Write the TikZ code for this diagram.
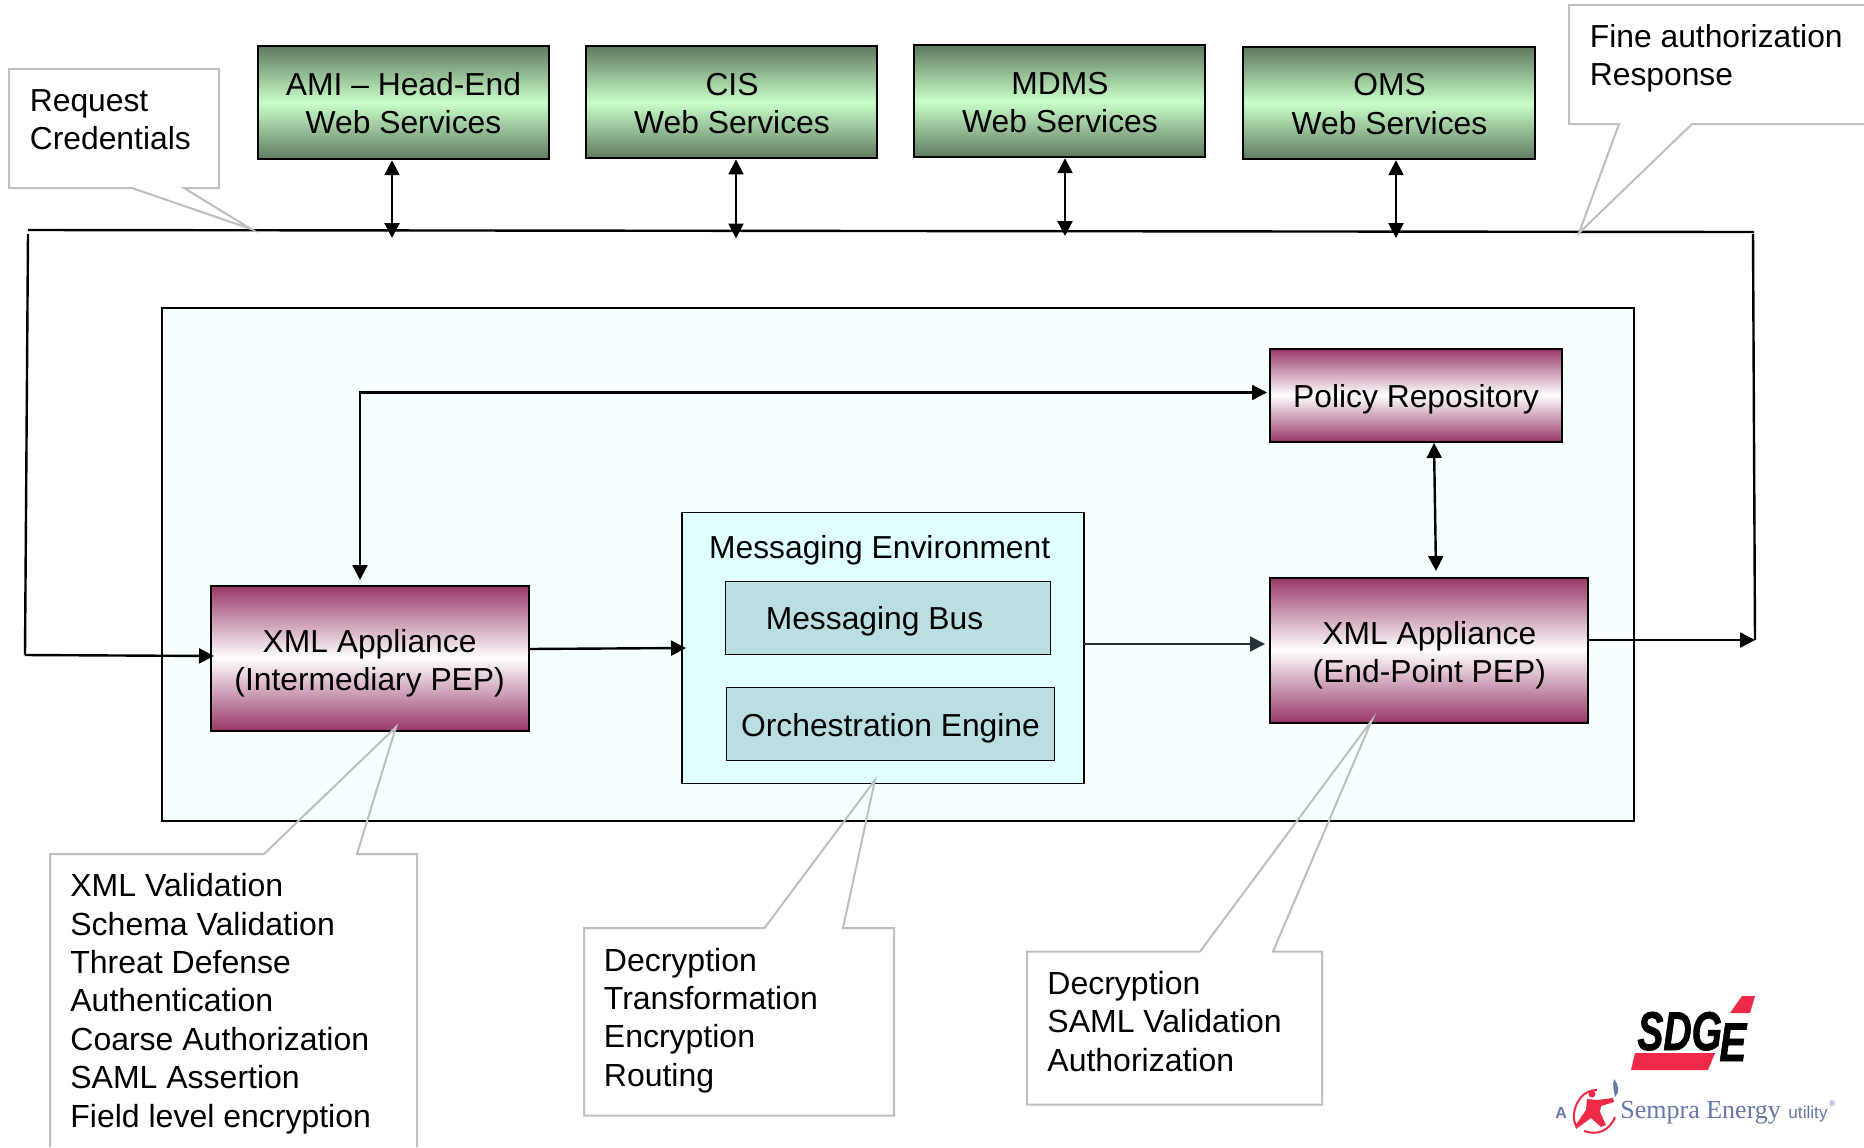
\documentclass[tikz,border=0pt]{standalone}
\usepackage{fontspec}
\setmainfont{Liberation Sans}
\newfontfamily\logoserif{Liberation Serif}
\newfontfamily\logoheavy[FakeBold=1.5]{Liberation Sans}
\usetikzlibrary{arrows.meta}
\definecolor{greenedge}{HTML}{5F7A60}
\definecolor{greenmid}{HTML}{C8FFC8}
\definecolor{maroon}{HTML}{983868}
\definecolor{panelfill}{HTML}{F5FFFF}
\definecolor{envfill}{HTML}{E0FFFF}
\definecolor{busfill}{HTML}{B9DFE2}
\definecolor{calloutline}{HTML}{BFBFBF}
\definecolor{logored}{HTML}{EE2A48}
\definecolor{logoblue}{HTML}{6678AA}
\definecolor{darkarrow}{HTML}{263238}
\tikzset{
  x=0.5pt,y=-0.5pt,
  base/.style={font=\fontsize{15.9}{19.2}\selectfont,text=black,inner sep=0pt,align=center},
  greenbox/.style={draw=black,line width=1pt,inner sep=0pt,top color=greenedge,bottom color=greenedge,middle color=greenmid},
  maroonbox/.style={draw=black,line width=1pt,inner sep=0pt,top color=maroon,bottom color=maroon,middle color=white},
  tealbox/.style={draw=black,line width=0.8pt,inner sep=0pt,fill=busfill},
  callout/.style={draw=calloutline,line width=1pt},
  note/.style={base,align=left,anchor=west},
  bignote/.style={note,font=\fontsize{16}{19.2}\selectfont},
  link/.style={draw=black,line width=1.2pt},
  onearrow/.style={link,-{Triangle[length=7.5pt,width=7.5pt]}},
  twoarrow/.style={link,{Triangle[length=7.5pt,width=7.5pt]}-{Triangle[length=7.5pt,width=7.5pt]}},
}
\begin{document}
\begin{tikzpicture}
\useasboundingbox (0,0) rectangle (1864,1147);
\fill[white] (0,0) rectangle (1864,1147);

% inner panel
\node[draw=black,line width=1.4pt,fill=panelfill,minimum width=736pt,minimum height=256.5pt,inner sep=0pt] (panel) at (898,564.5) {};

% service boxes
\node[greenbox,minimum width=145.5pt,minimum height=56.5pt] (ami) at (403.7,102.7) {};
\node[base] (amilabel) at (403.5,103.2) {AMI – Head-End\\Web Services};
\node[greenbox,minimum width=145.5pt,minimum height=56pt] (cis) at (731.7,102.4) {};
\node[base] (cislabel) at (732,103.8) {CIS\\Web Services};
\node[greenbox,minimum width=145.5pt,minimum height=56pt] (mdms) at (1059.9,101.2) {};
\node[base] (mdmslabel) at (1060,102.8) {MDMS\\Web Services};
\node[greenbox,minimum width=146pt,minimum height=56pt] (oms) at (1389.3,103.2) {};
\node[base] (omslabel) at (1389.5,104.2) {OMS\\Web Services};

% inner boxes
\node[maroonbox,minimum width=146pt,minimum height=46.5pt] (policy) at (1416.4,395) {};
\node[base] (policylabel) at (1416,399.3) {Policy Repository};
\node[maroonbox,minimum width=159pt,minimum height=72.5pt] (pepmid) at (369.5,658) {};
\node[base] (pepmidlabel) at (369.6,663.5) {XML Appliance\\(Intermediary PEP)};
\node[maroonbox,minimum width=159pt,minimum height=72.5pt] (pepend) at (1429.3,650) {};
\node[base] (pependlabel) at (1429.3,655) {XML Appliance\\(End-Point PEP)};
\node[draw=black,line width=0.8pt,fill=envfill,minimum width=201pt,minimum height=135.5pt,inner sep=0pt] (env) at (883,648) {};
\node[base] (envlabel) at (879.7,550.6) {Messaging Environment};
\node[tealbox,minimum width=162.5pt,minimum height=36.5pt] (bus) at (888,618) {};
\node[base] (buslabel) at (874.5,621) {Messaging Bus};
\node[tealbox,minimum width=164pt,minimum height=36.5pt] (orch) at (890.4,724) {};
\node[base] (orchlabel) at (890.5,728.3) {Orchestration Engine};

% bus coordinates
\coordinate (busL) at (28,230);
\coordinate (busR) at (1754,232);
\coordinate (downL) at (28,234);
\coordinate (downR) at (1753,234);
\coordinate (inL) at (25,655);
\coordinate (outR) at (1755,640);
\coordinate (a1) at (392,238);
\coordinate (a2) at (736,238.5);
\coordinate (a3) at (1065,236);
\coordinate (a4) at (1396,238);
\coordinate (corner) at (360,392.5);
\coordinate (envout) at (1265,644);
\coordinate (envin) at (686,648);
\coordinate (polin) at (1267,392.5);
\coordinate (ptop) at (360,580);
\coordinate (polbot) at (1434,443);
\coordinate (pepbot) at (1436,571);
\coordinate (endout) at (1588,640);
\coordinate (midout) at (528,649);
\coordinate (envoutS) at (1084,644);
\coordinate (midin) at (214,656);

% wires
\draw[link] (busL) -- (busR);
\draw[link] (downL) -- (inL);
\draw[link] (downR) -- (outR);
\draw[onearrow] (inL) -- (midin);
\draw[twoarrow] (ami.south -| a1) -- (a1);
\draw[twoarrow] (cis.south -| a2) -- (a2);
\draw[twoarrow] (mdms.south -| a3) -- (a3);
\draw[twoarrow] (oms.south -| a4) -- (a4);
\draw[twoarrow] (ptop) -- (corner) -- (polin);
\draw[twoarrow] (polbot) -- (pepbot);
\draw[onearrow] (midout) -- (envin);
\draw[draw=darkarrow,line width=1pt,-{Triangle[length=7.5pt,width=7.5pt]}] (envoutS) -- (envout);
\draw[onearrow] (endout) -- (outR);

% callouts
\path[callout] (9,69) -- (219,69) -- (219,188) -- (184,188) -- (251,229) -- (132,188) -- (9,188) -- cycle;
\node[note] (reqlabel) at (29.5,120) {Request\\Credentials};
\path[callout] (1864,5) -- (1569,5) -- (1569,124) -- (1619,124) -- (1579,233) -- (1692,124) -- (1864,124);
\node[note] (finelabel) at (1589.5,58.4) {Fine authorization\\Response};
\path[callout] (50,1147) -- (50,854) -- (264,854) -- (396,727) -- (357,854) -- (417,854) -- (417,1147);
\node[bignote] (pepmidnote) at (70,1003.6) {XML Validation\\Schema Validation\\Threat Defense\\Authentication\\Coarse Authorization\\SAML Assertion\\Field level encryption};
\path[callout] (584,928) -- (764.5,928) -- (875,780) -- (843,928) -- (894,928) -- (894,1115.5) -- (584,1115.5) -- cycle;
\node[bignote] (envnote) at (603.5,1020.4) {Decryption\\Transformation\\Encryption\\Routing};
\path[callout] (1027,951.5) -- (1200,951.5) -- (1372,720) -- (1273,951.5) -- (1322,951.5) -- (1322,1104.5) -- (1027,1104.5) -- cycle;
\node[bignote] (pependnote) at (1047,1021.5) {Decryption\\SAML Validation\\Authorization};

% logo
\fill[logored] (1631,1070) -- (1635,1053) -- (1715,1053) -- (1708,1070) -- cycle;
\fill[logored] (1730,1013) -- (1742,996) -- (1755,996) -- (1750,1013) -- cycle;
\node[inner sep=0pt,anchor=base west,xscale=0.93,yscale=1.3,font=\fontsize{21}{21}\selectfont\logoheavy\bfseries\itshape] (sdg) at (1637,1050) {SDG};
\node[inner sep=0pt,anchor=base west,xscale=0.96,yscale=1.3,font=\fontsize{21}{21}\selectfont\logoheavy\bfseries\itshape] (sdge) at (1719,1061) {E};
\node[inner sep=0pt,anchor=base west,text=logoblue,font=\fontsize{8}{8}\selectfont\bfseries] (logoa) at (1555,1118) {A};
\node[inner sep=0pt,anchor=base west,text=logoblue,font=\fontsize{13}{13}\selectfont\logoserif] (sempra) at (1620,1118) {Sempra Energy};
\node[inner sep=0pt,anchor=base west,text=logoblue,font=\fontsize{8.6}{8.6}\selectfont] (utility) at (1788,1118) {utility};
\node[inner sep=0pt,anchor=base west,text=logoblue,font=\fontsize{4}{4}\selectfont] (reg) at (1829,1106) {®};
% torch runner
\draw[logored,line width=1pt] (1597,1090) .. controls (1577,1090) and (1570,1115) .. (1576,1126);
\draw[logored,line width=1pt] (1584,1131) .. controls (1598,1136) and (1610,1130) .. (1615,1117);
\fill[logored] (1592,1094) circle[radius=3.5];
\fill[logored] (1587,1099) -- (1597,1100) -- (1613,1098) -- (1614,1102) -- (1601,1106) -- (1600,1112) -- (1606,1125) -- (1601,1127) -- (1591,1118) -- (1576,1129) -- (1575,1126) -- (1586,1110) -- cycle;
\fill[logoblue] (1614,1079) .. controls (1619,1085) and (1620,1092) .. (1615,1097) .. controls (1614,1091) and (1612,1085) .. (1614,1079) -- cycle;
\end{tikzpicture}
\end{document}
